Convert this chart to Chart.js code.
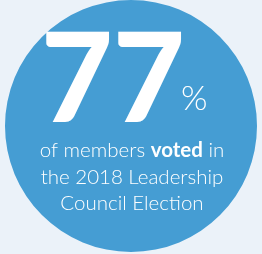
<!DOCTYPE html>
<html>
<head>
<meta charset="utf-8">
<script src="https://cdn.jsdelivr.net/npm/chart.js@4/dist/chart.umd.min.js"></script>
<style>
  html, body { margin: 0; padding: 0; background: #ebf2f9; }
  #wrap { width: 262px; height: 254px; }
</style>
</head>
<body>
<div id="wrap"><canvas id="myChart" width="262" height="254"></canvas></div>
<script>
const labels = ['Voted']
const values = [100]
const bigNumber = '77'
const unit = '%'
const captionLines = [
    [{ t: 'of members ', b: false }, { t: 'voted', b: true }, { t: ' in', b: false }],
    [{ t: 'the 2018 Leadership', b: false }],
    [{ t: 'Council Election', b: false }]
]

const fillColor = '#459dd3'

const centerText = {
    id: 'centerText',
    afterDraw(chart) {
        const ctx = chart.ctx
        ctx.save()
        ctx.fillStyle = '#ffffff'
        ctx.textBaseline = 'alphabetic'

        // big number
        ctx.font = '900 124px Lato'
        ctx.textAlign = 'left'
        ctx.fillText(bigNumber, 41, 122)

        ctx.font = '300 34px Lato'
        ctx.fillText(unit, 181, 110)

        // caption
        const baseY = [157, 184, 210]
        captionLines.forEach((line, i) => {
            let w = 0
            line.forEach(p => {
                ctx.font = (p.b ? '700 ' : '300 ') + '20.5px Lato'
                w += ctx.measureText(p.t).width
            })
            let x = 132 - w / 2
            line.forEach(p => {
                ctx.font = (p.b ? '700 ' : '300 ') + '20.5px Lato'
                ctx.fillText(p.t, x, baseY[i])
                x += ctx.measureText(p.t).width
            })
        })
        ctx.restore()
    }
}

new Chart(document.getElementById('myChart'), {
    type: 'pie',
    data: {
        labels: labels,
        datasets: [{
            data: values,
            backgroundColor: fillColor,
            borderWidth: 0
        }]
    },
    options: {
        responsive: false,
        animation: false,
        layout: { padding: { top: 0, bottom: 2, left: 0, right: 0 } },
        plugins: {
            legend: { display: false },
            tooltip: { enabled: false }
        }
    },
    plugins: [centerText]
})
</script>
</body>
</html>
